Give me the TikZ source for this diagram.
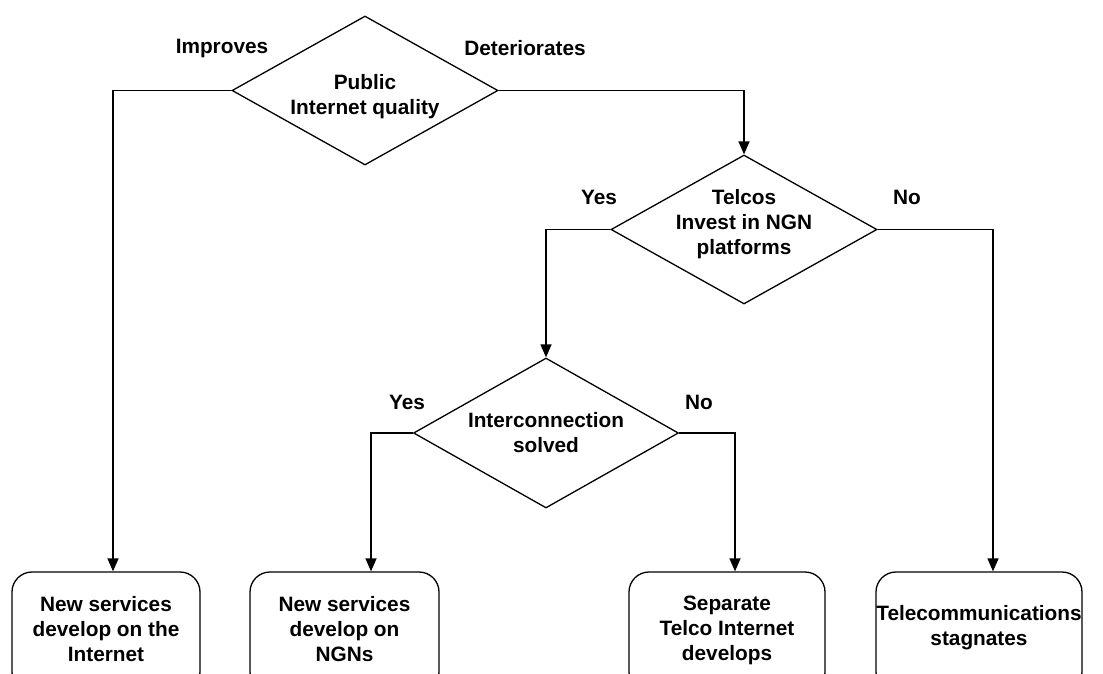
\documentclass[tikz,border=0pt]{standalone}
\usepackage{fontspec}
\setmainfont{Liberation Sans}
\usetikzlibrary{shapes.geometric,arrows.meta}
\begin{document}
\begin{tikzpicture}[x=1pt,y=-1pt,
  every node/.style={font=\fontsize{20.8}{25}\selectfont\bfseries, align=center},
  decision/.style={diamond, draw, line width=1.3pt, inner sep=-15pt, shape aspect=1.785, fill=white},
  outcome/.style={draw, rounded corners=20pt, line width=1.3pt, minimum height=120pt, inner sep=0pt},
  conn/.style={line width=1.3pt},
  arr/.style={conn, -{Triangle[length=13pt,width=11pt]}},
  lbl/.style={inner sep=0pt}
]
\useasboundingbox (0,0) rectangle (1103,673);
\clip (0,0) rectangle (1103,673);
\fill[white] (0,0) rectangle (1103,673);

\node[decision, minimum width=266pt, minimum height=149pt, text height=52pt] (d1) at (365,90.5) {Public\\Internet quality};
\node[decision, minimum width=266pt, minimum height=149pt, text depth=14.4pt] (d2) at (744,229.5) {Telcos\\Invest in NGN\\platforms};
\node[decision, minimum width=265pt, minimum height=150pt] (d3) at (546,433) {Interconnection\\solved};

\node[outcome, minimum width=188pt, text depth=6pt] (b1) at (106,632) {New services\\develop on the\\Internet};
\node[outcome, minimum width=189pt, text depth=6pt] (b2) at (344.5,632) {New services\\develop on\\NGNs};
\node[outcome, minimum width=196pt, text depth=8.4pt] (b3) at (727,632) {Separate\\Telco Internet\\develops};
\node[outcome, minimum width=206pt, text depth=12.4pt] (b4) at (979,632) {Telecommunications\\stagnates};

\node[lbl] (l1) at (222,48) {Improves};
\node[lbl] (l2) at (525,48) {Deteriorates};
\node[lbl] (l3) at (599,197) {Yes};
\node[lbl] (l4) at (907,197) {No};
\node[lbl] (l5) at (407,402) {Yes};
\node[lbl] (l6) at (699,402) {No};

\draw[arr] (d1.west) -| ([xshift=7pt]b1.north);
\draw[arr] (d1.east) -| (d2.north);
\draw[arr] (d2.west) -| (d3.north);
\draw[arr] (d2.east) -| ([xshift=14pt]b4.north);
\draw[arr] (d3.west) -| ([xshift=26.5pt]b2.north);
\draw[arr] (d3.east) -| ([xshift=8pt]b3.north);
\end{tikzpicture}
\end{document}
